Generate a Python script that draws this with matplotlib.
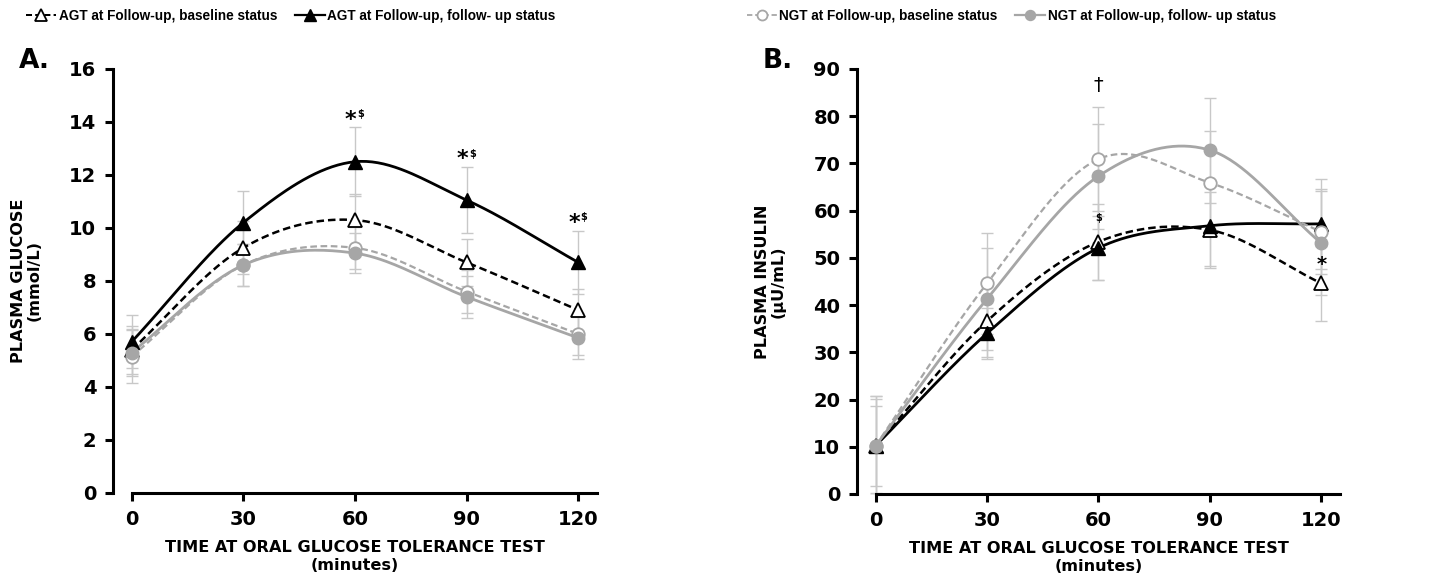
import numpy as np
import matplotlib
matplotlib.use("Agg")
import matplotlib.pyplot as plt
from matplotlib.lines import Line2D

plt.rcParams['font.family'] = ['DejaVu Sans']
plt.rcParams['font.weight'] = 'bold'

minutes = [0, 30, 60, 90, 120]

# A. plasma glucose (mmol/L)
glu_agt_bl = [5.4, 9.25, 10.3, 8.7, 6.9]
glu_agt_fu = [5.7, 10.2, 12.5, 11.05, 8.7]
glu_ngt_bl = [5.15, 8.6, 9.25, 7.6, 6.0]
glu_ngt_fu = [5.3, 8.6, 9.05, 7.4, 5.85]
glu_agt_bl_se = [0.9, 1.0, 1.0, 0.9, 0.8]
glu_agt_fu_se = [1.0, 1.2, 1.3, 1.25, 1.2]
glu_ngt_bl_se = [1.0, 0.8, 0.8, 0.8, 0.8]
glu_ngt_fu_se = [0.9, 0.8, 0.75, 0.8, 0.8]

# B. plasma insulin (uU/mL)
ins_agt_bl = [10.2, 36.6, 53.4, 55.9, 44.6]
ins_agt_fu = [10.2, 34.0, 52.1, 56.8, 57.2]
ins_ngt_bl = [10.2, 44.6, 70.9, 65.9, 55.5]
ins_ngt_fu = [10.2, 41.3, 67.3, 72.8, 53.1]
ins_agt_bl_se = [10.0, 7.5, 8.0, 8.0, 8.0]
ins_agt_fu_se = [10.5, 5.4, 6.8, 8.5, 9.5]
ins_ngt_bl_se = [10.5, 10.7, 11.0, 11.0, 9.0]
ins_ngt_fu_se = [8.5, 10.8, 11.1, 11.1, 11.0]

legend_labels = ["AGT at Follow-up, baseline status",
                 "AGT at Follow-up, follow- up status",
                 "NGT at Follow-up, baseline status",
                 "NGT at Follow-up, follow- up status"]

GREY = "#a6a6a6"
ERR = "#c8c8c8"

styles = [
    dict(color="black", ls=(0, (3, 1.6)), lw=1.8, marker="^", ms=10, mfc="white", mec="black", mew=1.3),
    dict(color="black", ls="-", lw=2.0, marker="^", ms=10, mfc="black", mec="black", mew=1.0),
    dict(color=GREY, ls=(0, (3, 1.6)), lw=1.6, marker="o", ms=9, mfc="white", mec=GREY, mew=1.3),
    dict(color=GREY, ls="-", lw=2.0, marker="o", ms=9, mfc=GREY, mec=GREY, mew=1.0),
]


def smooth(x, y, n=40):
    # catmull-rom through the points, like a "smoothed line" in the original software
    x = np.asarray(x, float)
    y = np.asarray(y, float)
    px = np.r_[2 * x[0] - x[1], x, 2 * x[-1] - x[-2]]
    py = np.r_[2 * y[0] - y[1], y, 2 * y[-1] - y[-2]]
    xs, ys = [], []
    t = np.linspace(0, 1, n)
    for i in range(1, len(px) - 2):
        for p, out in ((px, xs), (py, ys)):
            p0, p1, p2, p3 = p[i - 1], p[i], p[i + 1], p[i + 2]
            out.append(0.5 * (2 * p1 + (-p0 + p2) * t + (2 * p0 - 5 * p1 + 4 * p2 - p3) * t ** 2
                              + (-p0 + 3 * p1 - 3 * p2 + p3) * t ** 3))
    return np.concatenate(xs), np.concatenate(ys)


def draw_panel(ax, series, errs, ymax, ystep):
    for y, e in zip(series, errs):
        ax.errorbar(minutes, y, yerr=e, fmt="none", ecolor=ERR, elinewidth=1.0,
                    capsize=4, capthick=1.0, zorder=1)
    for y, st in zip(series, styles):
        sx, sy = smooth(minutes, y)
        ax.plot(sx, sy, color=st["color"], ls=st["ls"], lw=st["lw"], zorder=2)
        ax.plot(minutes, y, ls="none", marker=st["marker"], ms=st["ms"], mfc=st["mfc"],
                mec=st["mec"], mew=st["mew"], zorder=3)
    ax.set_xlim(-5, 125)
    ax.set_ylim(0, ymax)
    ax.set_xticks(minutes)
    ax.set_yticks(np.arange(0, ymax + 0.1, ystep))
    ax.spines["top"].set_visible(False)
    ax.spines["right"].set_visible(False)
    ax.spines["bottom"].set_bounds(0, 125)
    for s in ("left", "bottom"):
        ax.spines[s].set_linewidth(2.2)
    ax.tick_params(direction="out", length=6, width=2.2, labelsize=14, pad=6)
    for lab in ax.get_xticklabels() + ax.get_yticklabels():
        lab.set_fontweight("bold")
    ax.set_xlabel("TIME AT ORAL GLUCOSE TOLERANCE TEST\n(minutes)", fontsize=11.6,
                  fontweight="bold", labelpad=8, linespacing=1.25)


fig = plt.figure(figsize=(14.5, 5.83), dpi=100)
axA = fig.add_axes([0.0779, 0.1544, 0.3338, 0.7273])
axB = fig.add_axes([0.591, 0.1527, 0.3331, 0.729])

draw_panel(axA, [glu_agt_bl, glu_agt_fu, glu_ngt_bl, glu_ngt_fu],
           [glu_agt_bl_se, glu_agt_fu_se, glu_ngt_bl_se, glu_ngt_fu_se], 16, 2)
draw_panel(axB, [ins_agt_bl, ins_agt_fu, ins_ngt_bl, ins_ngt_fu],
           [ins_agt_bl_se, ins_agt_fu_se, ins_ngt_bl_se, ins_ngt_fu_se], 90, 10)

axA.set_ylabel("PLASMA GLUCOSE\n(mmol/L)", fontsize=11.6, fontweight="bold", labelpad=20,
               linespacing=1.05)
axB.set_ylabel("PLASMA INSULIN\n(\u00b5U/mL)", fontsize=11.6, fontweight="bold", labelpad=20,
               linespacing=1.05)

# significance marks
for xm, yv in zip([60, 90, 120], [14.3, 12.8, 10.4]):
    axA.annotate("*", (xm, yv), xytext=(-3, -4), textcoords="offset points",
                 ha="center", va="center", fontsize=16, fontweight="bold")
    axA.annotate(r"\$", (xm, yv), xytext=(4, 0), textcoords="offset points",
                 ha="center", va="center", fontsize=7, fontweight="bold")
axB.text(60, 86.5, "\u2020", ha="center", va="center", fontsize=14, fontweight="normal")
axB.text(60, 58.5, r"\$", ha="center", va="center", fontsize=7, fontweight="bold")
axB.text(120, 48.5, "*", ha="center", va="center", fontsize=14, fontweight="bold")

fig.text(0.013, 0.895, "A.", fontsize=19, fontweight="bold", ha="left", va="center")
fig.text(0.526, 0.895, "B.", fontsize=19, fontweight="bold", ha="left", va="center")

handles = [Line2D([], [], color=st["color"], ls=st["ls"], lw=st["lw"] * 0.8, marker=st["marker"],
                  ms=st["ms"] * 0.8, mfc=st["mfc"], mec=st["mec"], mew=st["mew"])
           for st in styles]
legfont = {"family": ["Liberation Sans"], "weight": "bold", "size": 9.8}
for i, x0 in ((0, 0.016), (2, 0.513)):
    fig.legend(handles[i:i + 2], legend_labels[i:i + 2], loc="upper left",
               bbox_to_anchor=(x0, 0.99), ncol=2, frameon=False, prop=legfont,
               handlelength=2.2, handletextpad=0.2, columnspacing=1.3,
               borderpad=0.2, borderaxespad=0)

fig.savefig("out.png", dpi=100)
